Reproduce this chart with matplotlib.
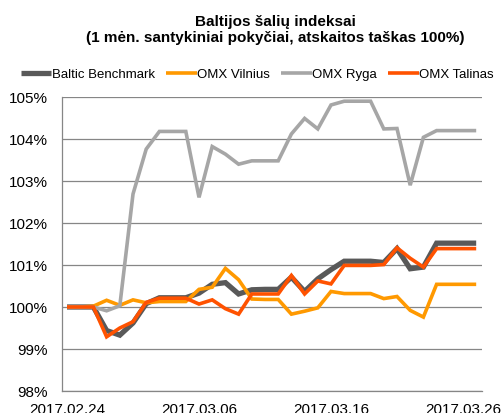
import matplotlib
matplotlib.use("Agg")
import matplotlib.pyplot as plt

plt.rcParams['font.family'] = ['Liberation Sans', 'DejaVu Sans']

# daily points 2017.02.24 .. 2017.03.27
dates = ['2017.02.24', '2017.02.25', '2017.02.26', '2017.02.27', '2017.02.28',
         '2017.03.01', '2017.03.02', '2017.03.03', '2017.03.04', '2017.03.05',
         '2017.03.06', '2017.03.07', '2017.03.08', '2017.03.09', '2017.03.10',
         '2017.03.11', '2017.03.12', '2017.03.13', '2017.03.14', '2017.03.15',
         '2017.03.16', '2017.03.17', '2017.03.18', '2017.03.19', '2017.03.20',
         '2017.03.21', '2017.03.22', '2017.03.23', '2017.03.24', '2017.03.25',
         '2017.03.26', '2017.03.27']

baltic_benchmark = [100.00, 100.00, 100.00, 99.44, 99.33, 99.62, 100.08, 100.22, 100.22, 100.22,
                    100.33, 100.54, 100.58, 100.31, 100.41, 100.42, 100.42, 100.71, 100.37, 100.67,
                    100.89, 101.09, 101.09, 101.09, 101.06, 101.39, 100.91, 100.95, 101.52, 101.52,
                    101.52, 101.52]
omx_vilnius = [100.00, 100.00, 100.02, 100.16, 100.04, 100.17, 100.10, 100.13, 100.13, 100.13,
               100.42, 100.47, 100.92, 100.65, 100.19, 100.18, 100.18, 99.83, 99.90, 99.98,
               100.37, 100.32, 100.32, 100.32, 100.20, 100.25, 99.92, 99.76, 100.54, 100.54,
               100.54, 100.54]
omx_ryga = [100.00, 100.00, 100.00, 99.91, 100.03, 102.69, 103.76, 104.18, 104.18, 104.18,
            102.61, 103.82, 103.64, 103.40, 103.48, 103.48, 103.48, 104.12, 104.49, 104.24,
            104.81, 104.90, 104.90, 104.90, 104.24, 104.25, 102.90, 104.04, 104.20, 104.20,
            104.20, 104.20]
omx_talinas = [100.00, 100.00, 100.00, 99.29, 99.50, 99.65, 100.11, 100.21, 100.21, 100.21,
               100.07, 100.17, 99.96, 99.83, 100.31, 100.31, 100.31, 100.75, 100.31, 100.62,
               100.55, 100.99, 100.99, 100.99, 101.01, 101.41, 101.16, 100.95, 101.39, 101.39,
               101.39, 101.39]

y_ticks = [98, 99, 100, 101, 102, 103, 104, 105]
x_tick_idx = [0, 10, 20, 30]


def main():
    fig = plt.figure(figsize=(5.03, 4.14), dpi=100)
    ax = fig.add_axes([62 / 503, 22 / 414, 420 / 503, 294 / 414])

    x = list(range(len(dates)))
    series = [
        ('Baltic Benchmark', baltic_benchmark, '#595959', 3.8),
        ('OMX Vilnius', omx_vilnius, '#FF9900', 2.6),
        ('OMX Ryga', omx_ryga, '#A6A6A6', 2.6),
        ('OMX Talinas', omx_talinas, '#FF5200', 2.6),
    ]
    for name, vals, color, lw in series:
        ax.plot(x, vals, color=color, linewidth=lw, label=name,
                solid_joinstyle='miter', solid_capstyle='butt')

    ax.set_xlim(-0.38, 31.44)
    ax.set_ylim(98, 105)
    ax.set_yticks(y_ticks)
    ax.set_yticklabels([f'{v}%' for v in y_ticks])
    ax.set_xticks(x_tick_idx)
    ax.set_xticklabels([dates[i] for i in x_tick_idx])

    ax.grid(True, axis='y', color='#868686', linewidth=0.9)
    ax.set_axisbelow(True)
    for side in ('top', 'right'):
        ax.spines[side].set_visible(False)
    for side in ('left', 'bottom'):
        ax.spines[side].set_color('#868686')
        ax.spines[side].set_linewidth(0.9)

    ax.tick_params(axis='y', length=0, pad=10, labelsize=11, colors='black')
    ax.tick_params(axis='x', length=0, pad=8, labelsize=11, colors='black')

    fig.text(275 / 503, 1 - 30 / 414,
             'Baltijos šalių indeksai\n(1 mėn. santykiniai pokyčiai, atskaitos taškas 100%)',
             ha='center', va='center', fontsize=11, fontweight='bold', linespacing=1.2)

    fig.legend(loc='center left', bbox_to_anchor=(21 / 503, 1 - 75 / 414), ncol=4,
               frameon=False, fontsize=9.5, handlelength=2.3, handletextpad=0.05,
               columnspacing=0.85, borderaxespad=0, borderpad=0)

    plt.savefig('out.png', dpi=100)
    plt.close()


if __name__ == '__main__':
    main()
